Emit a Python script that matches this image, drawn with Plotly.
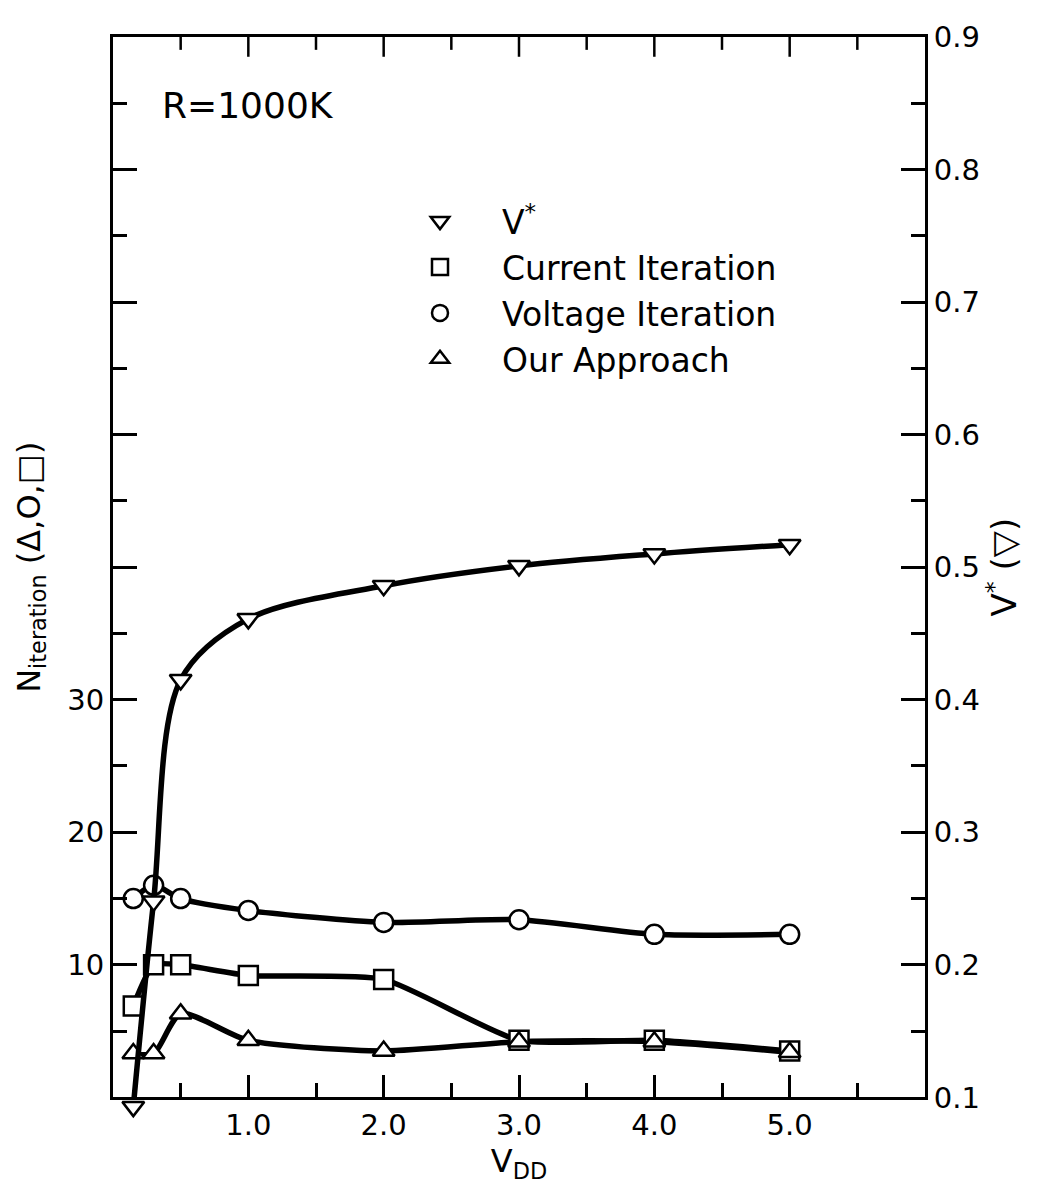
import plotly.graph_objects as go

# ---- data ----
vdd = [0.15, 0.3, 0.5, 1.0, 2.0, 3.0, 4.0, 5.0]
v_star = [0.093, 0.248, 0.415, 0.461, 0.486, 0.501, 0.510, 0.517]
n_current = [6.9, 10.0, 10.0, 9.2, 8.9, 4.3, 4.3, 3.5]
n_voltage = [15.0, 16.0, 15.0, 14.1, 13.2, 13.4, 12.3, 12.3]
n_ours = [3.3, 3.3, 6.3, 4.3, 3.5, 4.2, 4.2, 3.4]

x_tickvals = [1, 2, 3, 4, 5]
x_ticktext = ["1.0", "2.0", "3.0", "4.0", "5.0"]
x_half_ticks = [0.5, 1.5, 2.5, 3.5, 4.5, 5.5]
y_tickvals = [10, 20, 30]
y_ticktext = ["10", "20", "30"]
y_unlabeled_ticks = [40, 50, 60, 70]
y2_tickvals = [0.1, 0.2, 0.3, 0.4, 0.5, 0.6, 0.7, 0.8, 0.9]
y2_ticktext = ["0.1", "0.2", "0.3", "0.4", "0.5", "0.6", "0.7", "0.8", "0.9"]

FONT = "DejaVu Sans"
LW = 5.5

# ---- geometry (pixels). The page body adds an 8 px offset. ----
OFF = 8
W, H = 1044 - OFF, 1190 - OFF
FRAME_L, FRAME_R, FRAME_T, FRAME_B = 113, 925, 24, 1097     # target screen pixels
EXTRA = 30                                 # room under the frame for the V* marker below 0.1
ML = FRAME_L - OFF
MR = W - (FRAME_R - OFF)
MT = FRAME_T - OFF
MB = H - (FRAME_B - OFF + EXTRA)
PH = H - MT - MB
PW = W - ML - MR
d0 = EXTRA / PH
y3_low = 0.1 - EXTRA * (0.8 / (PH - EXTRA))


def px_y(py):
    return (H - MB - (py - OFF)) / PH


def px_x(px):
    return (px - OFF - ML) / PW


fig = go.Figure()

# invisible helper trace so that the tick-only overlay y axis is drawn
fig.add_trace(go.Scatter(x=vdd, y=n_ours, xaxis="x", yaxis="y4", mode="lines",
                         line=dict(width=0), opacity=0, showlegend=False, hoverinfo="skip"))

# lines first (so that every marker sits above every line)
for yv, ax, sm in [(n_ours, "y", 0.7), (n_current, "y", 0.55), (n_voltage, "y", 0.7), (v_star, "y2", 0.9)]:
    fig.add_trace(go.Scatter(x=vdd, y=yv, yaxis=ax, mode="lines",
                             line=dict(color="black", width=LW, shape="spline", smoothing=sm),
                             showlegend=False, hoverinfo="skip"))

mk = dict(color="white", size=19, line=dict(color="black", width=2.5))
fig.add_trace(go.Scatter(x=vdd, y=n_current, mode="markers", name="Current Iteration",
                         marker=dict(symbol="square", **mk), legendrank=2, cliponaxis=False))
fig.add_trace(go.Scatter(x=vdd, y=n_voltage, mode="markers", name="Voltage Iteration",
                         marker=dict(symbol="circle", **mk), legendrank=3, cliponaxis=False))
fig.add_trace(go.Scatter(x=vdd, y=n_ours, mode="markers", name="Our Approach",
                         marker=dict(symbol="triangle-up", **mk), legendrank=4, cliponaxis=False))
fig.add_trace(go.Scatter(x=vdd, y=v_star, yaxis="y3", mode="markers", name="V<sup>*</sup>",
                         marker=dict(symbol="triangle-down", **mk), legendrank=1, cliponaxis=False))

axis_common = dict(showgrid=False, zeroline=False, showline=True, linecolor="black",
                   linewidth=3, ticks="inside", tickcolor="black", tickwidth=2.5,
                   ticklabeloverflow="allow")
x_minor = dict(dtick=0.5, tick0=0, ticks="inside", ticklen=14, tickcolor="black", tickwidth=2.5)
y_minor = dict(dtick=5, tick0=0, ticks="inside", ticklen=14, tickcolor="black", tickwidth=2.5)

# inward ticks along the top edge of the frame (at the x-axis tick values)
top_ticks = []
for vals, length in [(x_tickvals, 20), (x_half_ticks, 13)]:
    for v in vals:
        top_ticks.append(dict(type="line", xref="x", yref="paper", x0=v, x1=v,
                              y0=1, y1=1 - length / PH, layer="above",
                              line=dict(color="black", width=2.5)))

fig.update_layout(
    width=W, height=H,
    margin=dict(l=ML, r=MR, t=MT, b=MB),
    plot_bgcolor="rgba(0,0,0,0)", paper_bgcolor="white",
    font=dict(family=FONT, size=29, color="black"),
    xaxis=dict(range=[0, 6], tickmode="array", tickvals=x_tickvals, ticktext=x_ticktext,
               ticklen=22, minor=x_minor, mirror=True,
               title=dict(text="V<sub>DD</sub>", font=dict(size=32), standoff=2),
               **axis_common),
    yaxis=dict(domain=[d0, 1], range=[0, 80], tickmode="array", tickvals=y_tickvals,
               ticktext=y_ticktext, ticklen=24, minor=y_minor,
               title=dict(text="N<sub>iteration</sub> (Δ,O,□)", font=dict(size=32), standoff=18),
               **axis_common),
    yaxis4=dict(range=[0, 80], overlaying="y", side="left", anchor="x", tickmode="array",
                tickvals=y_unlabeled_ticks, ticklen=24, showticklabels=False,
                showgrid=False, zeroline=False, showline=False, ticks="inside",
                tickcolor="black", tickwidth=2.5),
    yaxis2=dict(range=[0.1, 0.9], overlaying="y", side="right", tickmode="array",
                tickvals=y2_tickvals, ticktext=y2_ticktext, ticklen=24,
                minor=dict(dtick=0.05, tick0=0.1, ticks="inside", ticklen=14,
                           tickcolor="black", tickwidth=2.5),
                title=dict(text="V<sup>*</sup> (▽)", font=dict(size=34), standoff=12),
                **axis_common),
    yaxis3=dict(domain=[0, 1], range=[y3_low, 0.9], anchor="x", visible=False,
                fixedrange=True),
    shapes=top_ticks,
    legend=dict(x=px_x(378), y=px_y(182), xanchor="left", yanchor="top",
                bgcolor="rgba(0,0,0,0)", font=dict(size=33), itemwidth=114,
                tracegroupgap=0),
    annotations=[dict(text="R=1000K", x=px_x(160), y=px_y(93),
                      xref="paper", yref="paper", xanchor="left", yanchor="middle",
                      showarrow=False, font=dict(size=36))],
)

fig.write_html("out.html")
